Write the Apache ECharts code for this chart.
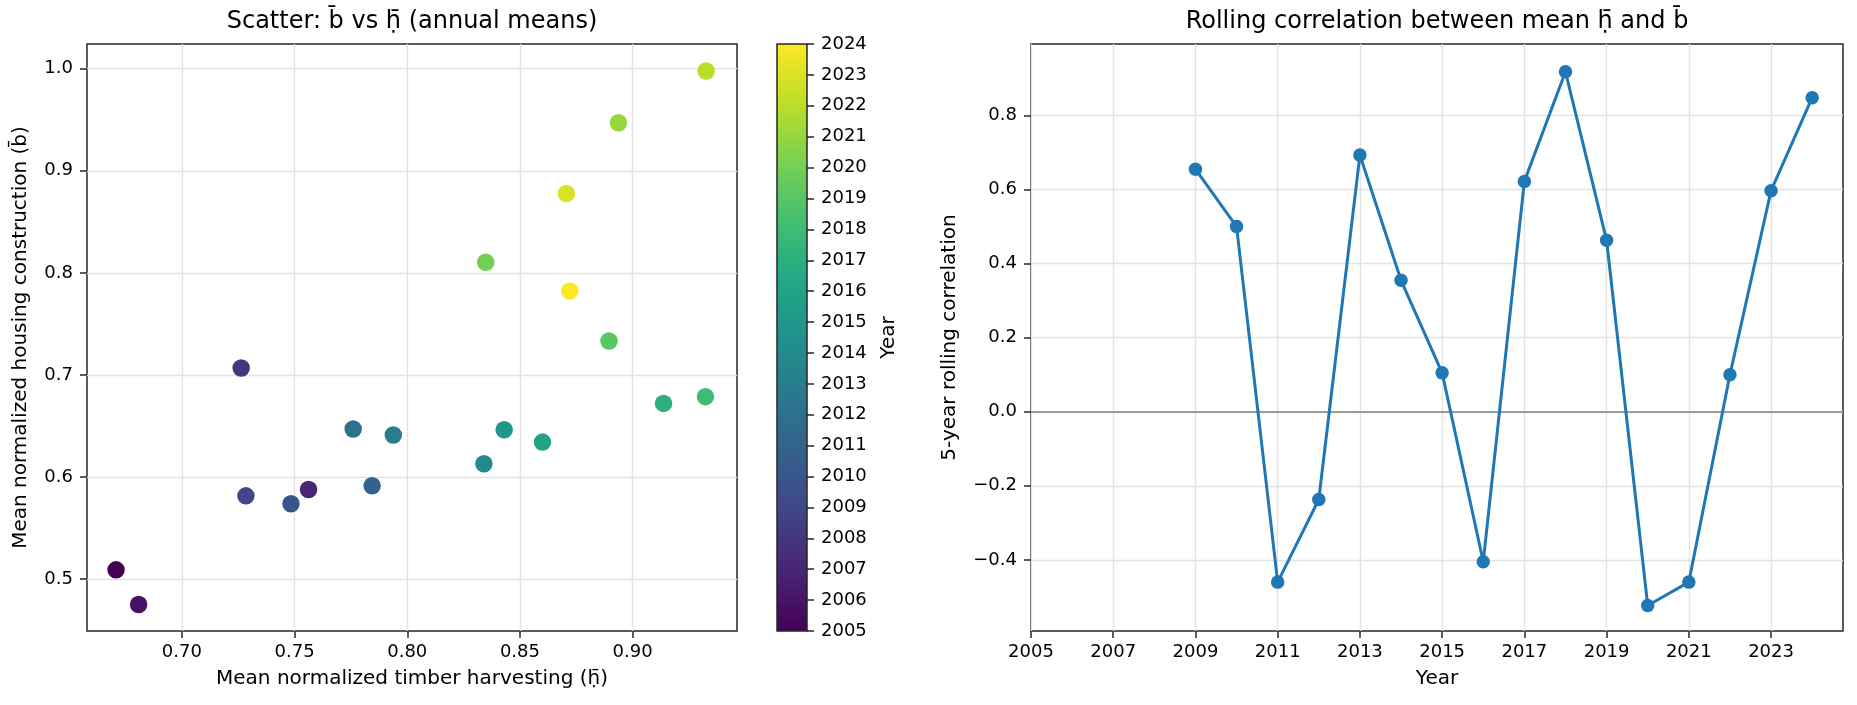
<!DOCTYPE html>
<html>
<head>
<meta charset="utf-8">
<script src="https://cdn.jsdelivr.net/npm/echarts@6/dist/echarts.min.js"></script>
<style>
  html, body { margin: 0; padding: 0; background: #fff; }
  #chart { width: 1857px; height: 705px; }
</style>
</head>
<body>
<div id="chart"></div>
<script>
// ---- data ----
const years = [2005, 2006, 2007, 2008, 2009, 2010, 2011, 2012, 2013, 2014,
               2015, 2016, 2017, 2018, 2019, 2020, 2021, 2022, 2023, 2024];
const harvestMean = [0.6708, 0.6808, 0.7562, 0.7263, 0.7284, 0.7484, 0.7844, 0.7760, 0.7938, 0.8340,
                     0.8430, 0.8600, 0.9137, 0.9323, 0.8895, 0.8348, 0.8937, 0.9326, 0.8706, 0.8721];
const housingMean = [0.5092, 0.4752, 0.5879, 0.7069, 0.5817, 0.5739, 0.5915, 0.6471, 0.6412, 0.6131,
                     0.6464, 0.6343, 0.6722, 0.6788, 0.7333, 0.8105, 0.9471, 0.9977, 0.8778, 0.7824];
const rollYears = [2009, 2010, 2011, 2012, 2013, 2014, 2015, 2016,
                   2017, 2018, 2019, 2020, 2021, 2022, 2023, 2024];
const rollCorr = [0.655, 0.500, -0.460, -0.237, 0.693, 0.355, 0.105, -0.405,
                  0.622, 0.918, 0.463, -0.523, -0.460, 0.100, 0.597, 0.848];

const leftXTicks = [0.70, 0.75, 0.80, 0.85, 0.90];
const leftYTicks = [0.5, 0.6, 0.7, 0.8, 0.9, 1.0];
const rightXTicks = [2005, 2007, 2009, 2011, 2013, 2015, 2017, 2019, 2021, 2023];
const rightYTicks = [-0.4, -0.2, 0.0, 0.2, 0.4, 0.6, 0.8];

const viridis = ['#440154', '#482475', '#414487', '#355f8d', '#2a788e', '#21918c',
                 '#22a884', '#44bf70', '#7ad151', '#bddf26', '#fde725'];

// ---- styles ----
const FONT = 'DejaVu Sans';
const SPINE = '#262626';
const GRIDC = '#e3e3e3';
const tickFont = { fontFamily: FONT, fontSize: 18, color: '#000' };
const nameFont = { fontFamily: FONT, fontSize: 20, color: '#000' };
const titleFont = { fontFamily: FONT, fontSize: 24, fontWeight: 'normal', color: '#000' };

function minusFmt(v, d) {
  const s = Math.abs(v).toFixed(d);
  return (v < -1e-9 ? '\u2212' : '') + s;
}

function valAxis(opts) {
  return Object.assign({
    type: 'value',
    axisLine: { show: false, onZero: false },
    splitLine: { show: true, lineStyle: { color: GRIDC, width: 1.4 } },
    nameTextStyle: nameFont,
    nameLocation: 'middle'
  }, opts);
}
function ticks(vals) {
  return { show: true, length: 7, customValues: vals, lineStyle: { color: SPINE, width: 1.5 } };
}

const chart = echarts.init(document.getElementById('chart'), null, { renderer: 'canvas' });

const option = {
  animation: false,
  backgroundColor: '#fff',
  title: [
    { text: 'Scatter: b\u0304 vs \u1e25\u0304 (annual means)', left: 412, top: 10, padding: 0,
      textAlign: 'center', textStyle: titleFont },
    { text: 'Rolling correlation between mean \u1e25\u0304 and b\u0304', left: 1437, top: 10, padding: 0,
      textAlign: 'center', textStyle: titleFont }
  ],
  grid: [
    { left: 87, top: 44, width: 650, height: 587, show: true, borderColor: SPINE, borderWidth: 1.5, backgroundColor: 'transparent' },
    { left: 777, top: 44, width: 30, height: 587, show: false },
    { left: 1031, top: 44, width: 812, height: 587, show: true, borderColor: SPINE, borderWidth: 1.5, backgroundColor: 'transparent' }
  ],
  visualMap: [{
    type: 'continuous', show: false, seriesIndex: 0, dimension: 2,
    min: 2005, max: 2024, inRange: { color: viridis }
  }],
  xAxis: [
    valAxis({
      gridIndex: 0, min: 0.6579, max: 0.9463,
      name: 'Mean normalized timber harvesting (\u1e25\u0304)', nameGap: 38,
      axisTick: ticks(leftXTicks),
      axisLabel: Object.assign({ customValues: leftXTicks, margin: 12, formatter: v => v.toFixed(2) }, tickFont)
    }),
    { type: 'category', gridIndex: 1, data: ['c'], show: false },
    valAxis({
      gridIndex: 2, min: 2005, max: 2024.75,
      name: 'Year', nameGap: 38,
      axisTick: ticks(rightXTicks),
      axisLabel: Object.assign({ customValues: rightXTicks, margin: 12, formatter: v => String(Math.round(v)) }, tickFont)
    })
  ],
  yAxis: [
    valAxis({
      gridIndex: 0, min: 0.4493, max: 1.0242,
      name: 'Mean normalized housing construction (b\u0304)', nameGap: 56, nameRotate: 90,
      axisTick: ticks(leftYTicks),
      axisLabel: Object.assign({ customValues: leftYTicks, margin: 14, formatter: v => v.toFixed(1) }, tickFont)
    }),
    {
      type: 'value', gridIndex: 1, position: 'right', min: 2005, max: 2024, interval: 1,
      name: 'Year', nameLocation: 'middle', nameRotate: 90, nameGap: 72, nameTextStyle: nameFont,
      axisLine: { show: false, onZero: false },
      axisTick: { show: true, length: 7, lineStyle: { color: SPINE, width: 1.5 } },
      splitLine: { show: false },
      axisLabel: Object.assign({ margin: 14, formatter: v => String(Math.round(v)) }, tickFont)
    },
    valAxis({
      gridIndex: 2, min: -0.592, max: 0.993,
      name: '5-year rolling correlation', nameGap: 71, nameRotate: 90,
      axisTick: ticks(rightYTicks),
      axisLabel: Object.assign({ customValues: rightYTicks, margin: 14, formatter: v => minusFmt(v, 1) }, tickFont)
    })
  ],
  series: [
    {
      type: 'scatter', xAxisIndex: 0, yAxisIndex: 0,
      symbolSize: 17.5,
      itemStyle: { opacity: 1 },
      data: years.map((y, i) => [harvestMean[i], housingMean[i], y]),
      z: 3
    },
    {
      type: 'custom', xAxisIndex: 1, yAxisIndex: 1,
      data: [[0, 2024]],
      renderItem: function (params, api) {
        const cs = params.coordSys;
        const pTop = api.coord([0, 2024]);
        const pBot = api.coord([0, 2005]);
        const stops = viridis.map((c, i) => ({ offset: i / (viridis.length - 1), color: c }));
        return {
          type: 'rect',
          shape: { x: cs.x, y: pTop[1], width: cs.width, height: pBot[1] - pTop[1] },
          style: {
            fill: new echarts.graphic.LinearGradient(0, 1, 0, 0, stops),
            stroke: SPINE, lineWidth: 1.5
          }
        };
      }
    },
    {
      type: 'line', xAxisIndex: 2, yAxisIndex: 2,
      data: rollYears.map((y, i) => [y, rollCorr[i]]),
      color: '#1f77b4',
      lineStyle: { width: 3, color: '#1f77b4' },
      itemStyle: { color: '#1f77b4', opacity: 1 },
      symbol: 'circle', symbolSize: 13.5, showSymbol: true,
      z: 3,
      markLine: {
        silent: true, symbol: 'none', label: { show: false },
        lineStyle: { color: '#808080', width: 1.6, type: 'solid' },
        data: [{ yAxis: 0 }],
        z: 2
      }
    }
  ]
};
chart.setOption(option);
</script>
</body>
</html>
